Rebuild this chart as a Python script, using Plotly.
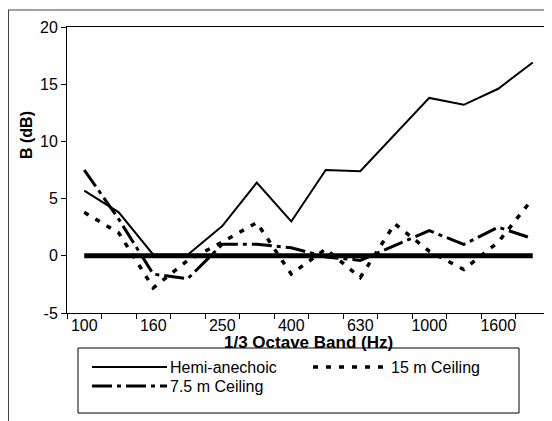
import plotly.graph_objects as go

bands = ["100", "125", "160", "200", "250", "315", "400", "500",
         "630", "800", "1000", "1250", "1600", "2000"]
x_tick_labels = ["100", "", "160", "", "250", "", "400", "",
                 "630", "", "1000", "", "1600", ""]
y_tick_values = [-5, 0, 5, 10, 15, 20]
y_tick_labels = ["-5", "0", "5", "10", "15", "20"]
hemi_anechoic = [5.7, 3.8, 0.1, 0.1, 2.6, 6.4, 3.0, 7.5, 7.4, 10.6, 13.8, 13.2, 14.6, 16.9]
ceiling_15m = [3.8, 2.0, -2.8, -0.4, 1.2, 2.9, -1.6, 0.6, -1.9, 2.8, 0.4, -1.2, 1.2, 5.0]
ceiling_7_5m = [7.5, 3.2, -1.6, -2.0, 1.0, 1.0, 0.7, -0.1, -0.4, 0.9, 2.2, 1.0, 2.5, 1.5]
reference = [0] * len(bands)

FONT = "Liberation Sans, Arial, sans-serif"

styles = {
    "Hemi-anechoic": dict(color="black", width=2),
    "15 m Ceiling": dict(color="black", width=3.5, dash="5px,8px"),
    "7.5 m Ceiling": dict(color="black", width=3, dash="20px,5px,4px,5px"),
}

fig = go.Figure()
fig.add_trace(go.Scatter(x=bands, y=hemi_anechoic, mode="lines", name="Hemi-anechoic",
                         line=styles["Hemi-anechoic"], showlegend=False))
fig.add_trace(go.Scatter(x=bands, y=ceiling_15m, mode="lines", name="15 m Ceiling",
                         line=styles["15 m Ceiling"], showlegend=False))
fig.add_trace(go.Scatter(x=bands, y=ceiling_7_5m, mode="lines", name="7.5 m Ceiling",
                         line=styles["7.5 m Ceiling"], showlegend=False))
fig.add_trace(go.Scatter(x=bands, y=reference, mode="lines", name="0 dB",
                         line=dict(color="black", width=5), showlegend=False))

# The page body has an 8px default margin, so the figure starts at window (8, 8).
OFF = 8
W, H = 552 - OFF, 421 - OFF
PLOT_L, PLOT_R, PLOT_T, PLOT_B = 67, 550, 27, 313  # window pixel coordinates
L, R, T, B = PLOT_L - OFF, W - (PLOT_R - OFF), PLOT_T - OFF, H - (PLOT_B - OFF)
pw, ph = W - L - R, H - T - B


def px(xw):
    return (xw - OFF - L) / pw


def py(yw):
    return (H - B - (yw - OFF)) / ph


shapes = [
    # outer chart frame (top edge and left edge)
    dict(type="line", xref="paper", yref="paper", x0=px(8), x1=px(552),
         y0=py(10), y1=py(10), line=dict(color="#444", width=1)),
    dict(type="line", xref="paper", yref="paper", x0=px(8.5), x1=px(8.5),
         y0=py(10), y1=py(421), line=dict(color="#444", width=1)),
    # legend box
    dict(type="rect", xref="paper", yref="paper", x0=px(78), x1=px(519),
         y0=py(348), y1=py(413), line=dict(color="black", width=1), fillcolor="white"),
]
annotations = [
    dict(text="<b>B (dB)</b>", textangle=-90, xref="paper", yref="paper",
         x=px(26), y=py(135), xanchor="center", yanchor="middle",
         showarrow=False, font=dict(size=16)),
    dict(text="<b>1/3 Octave Band (Hz)</b>", xref="paper", yref="paper",
         x=0.5, y=py(342.5), xanchor="center", yanchor="middle",
         showarrow=False, font=dict(size=17)),
]

legend_entries = [("Hemi-anechoic", 92, 367), ("15 m Ceiling", 313, 367), ("7.5 m Ceiling", 92, 386)]
for name, x0, yc in legend_entries:
    shapes.append(dict(type="line", xref="paper", yref="paper", x0=px(x0), x1=px(x0 + 75),
                       y0=py(yc), y1=py(yc), line=styles[name]))
    annotations.append(dict(text=name, xref="paper", yref="paper", x=px(x0 + 76), y=py(yc),
                            xanchor="left", yanchor="middle", showarrow=False,
                            font=dict(size=16)))

fig.update_layout(
    width=W, height=H,
    margin=dict(l=L, r=R, t=T, b=B),
    paper_bgcolor="white", plot_bgcolor="white",
    font=dict(family=FONT, color="black", size=16),
    showlegend=False,
    xaxis=dict(type="category", range=[-0.5, 13.5], tickmode="array",
               tickvals=bands, ticktext=x_tick_labels, tickson="boundaries", tickangle=0,
               ticks="outside", ticklen=5, tickcolor="black", ticklabelstandoff=-2,
               showline=True, linecolor="black", linewidth=1, mirror=True,
               showgrid=False, zeroline=False,
               tickfont=dict(size=16)),
    yaxis=dict(range=[-5, 20], tickmode="array", tickvals=y_tick_values, ticktext=y_tick_labels,
               ticks="outside", ticklen=5, tickcolor="black",
               showline=True, linecolor="black", linewidth=1, mirror=True,
               showgrid=False, zeroline=False,
               tickfont=dict(size=16)),
    annotations=annotations,
    shapes=shapes,
)

fig.write_html("out.html")
